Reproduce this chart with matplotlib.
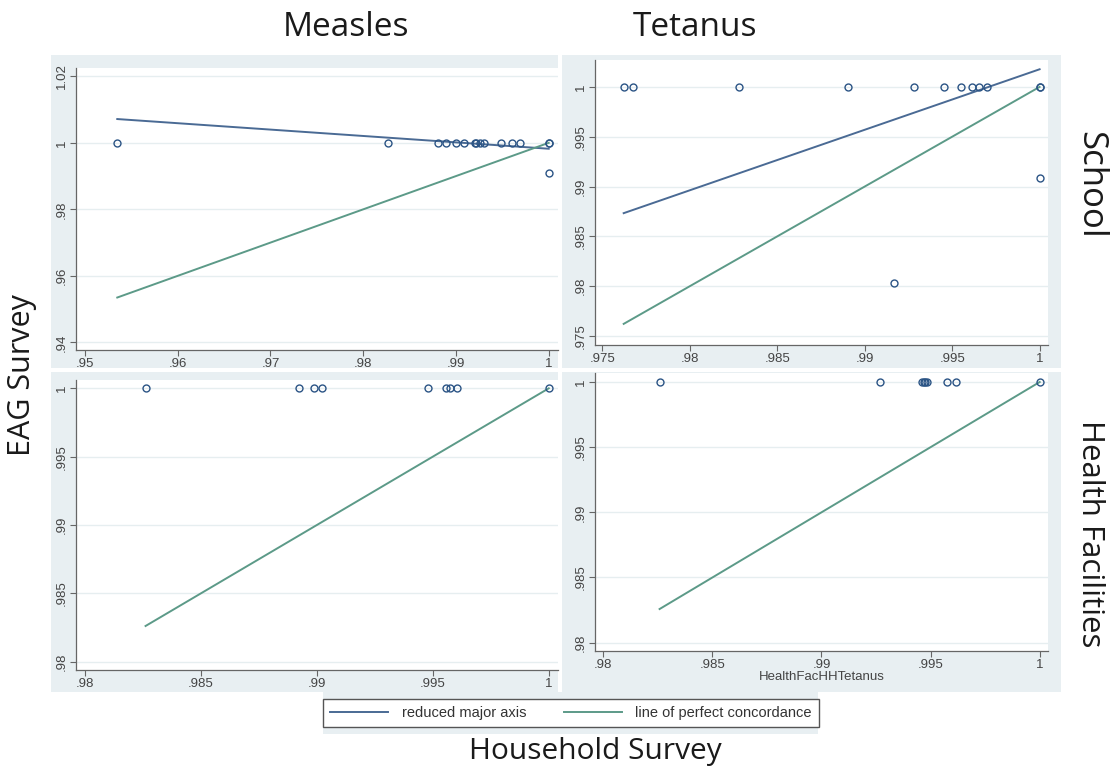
import numpy as np
import matplotlib
matplotlib.use("Agg")
import matplotlib.pyplot as plt
from matplotlib.patches import Rectangle
from matplotlib.lines import Line2D

# ---- data ----
# Measles / School
ms_x = [0.95348, 0.98272, 0.98807, 0.98897, 0.98998, 0.99084, 0.99203, 0.9922,
        0.99256, 0.99303, 0.9949, 0.99608, 0.99694, 1.0, 1.0, 1.0]
ms_y = [1, 1, 1, 1, 1, 1, 1, 1, 1, 1, 1, 1, 1, 1, 1, 0.9909]
ms_rma_x = [0.95348, 1.0]
ms_rma_y = [1.00715, 0.99822]

# Tetanus / School
ts_x = [0.97622, 0.97677, 0.98279, 0.98903, 0.99284, 0.99454, 0.99549, 0.99615,
        0.99655, 0.99699, 1.0, 1.0, 0.99168, 1.0]
ts_y = [1, 1, 1, 1, 1, 1, 1, 1, 1, 1, 1, 1, 0.98035, 0.99081]
ts_rma_x = [0.97622, 1.0]
ts_rma_y = [0.98733, 1.00177]

# Measles / Health Facilities
mh_x = [0.98261, 0.98924, 0.98988, 0.99023, 0.99478, 0.99556, 0.99573, 0.99605, 1.0]
mh_y = [1, 1, 1, 1, 1, 1, 1, 1, 1]

# Tetanus / Health Facilities
th_x = [0.98258, 0.99266, 0.99461, 0.99469, 0.99476, 0.99484, 0.99576, 0.99615, 1.0]
th_y = [1, 1, 1, 1, 1, 1, 1, 1, 1]

W, H = 1115, 770
BG = '#e8eff2'
RMA_C = '#4a6a94'
CONC_C = '#5c9a88'
MARK_C = '#2b5485'

fig = plt.figure(figsize=(W / 100, H / 100), dpi=100)


def px_rect(l, t, r, b):
    return Rectangle((l / W, 1 - b / H), (r - l) / W, (b - t) / H,
                     transform=fig.transFigure, facecolor=BG, edgecolor='none', zorder=-10)


# panel backgrounds
for rect in [(51, 55, 558, 368), (562, 55, 1061, 368),
             (51, 372, 558, 692), (562, 372, 1061, 692), (323, 692, 818, 734)]:
    fig.patches.append(px_rect(*rect))


def make_ax(l, t, r, b):
    return fig.add_axes([l / W, 1 - b / H, (r - l) / W, (b - t) / H])


def fmt(v):
    s = ('%.3f' % v).rstrip('0').rstrip('.')
    if s.startswith('0'):
        s = s[1:]
    return s


def style(ax, xlim, ylim, xt, yt):
    ax.set_xlim(*xlim)
    ax.set_ylim(*ylim)
    ax.set_xticks(xt)
    ax.set_yticks(yt)
    ax.set_xticklabels([fmt(v) for v in xt], fontsize=9.5, color='#444444',
                       family='Liberation Sans')
    ax.set_yticklabels([fmt(v) for v in yt], fontsize=9.5, color='#444444',
                       family='Liberation Sans', rotation=90, va='center')
    for s in ['top', 'right']:
        ax.spines[s].set_visible(False)
    for s in ['left', 'bottom']:
        ax.spines[s].set_color('#666666')
        ax.spines[s].set_linewidth(0.9)
    ax.tick_params(direction='out', length=4, width=0.8, color='#666666', pad=2)
    ax.grid(axis='y', color='#e6eef0', linewidth=1)
    ax.set_axisbelow(True)
    ax.set_facecolor('white')


def scatter(ax, x, y):
    ax.plot(x, y, 'o', ms=5, mfc='none', mec=MARK_C, mew=1.0, zorder=3)


# top-left: Measles, School
ax1 = make_ax(76, 68, 558, 350)
scatter(ax1, ms_x, ms_y)
ax1.plot(ms_rma_x, ms_rma_y, color=RMA_C, lw=1.4)
ax1.plot([min(ms_x), max(ms_x)], [min(ms_x), max(ms_x)], color=CONC_C, lw=1.4)
style(ax1, (0.94903, 1.001), (0.9377, 1.0225),
      [0.95, 0.96, 0.97, 0.98, 0.99, 1.0], [0.94, 0.96, 0.98, 1.0, 1.02])

# top-right: Tetanus, School
ax2 = make_ax(595, 60, 1048, 345)
scatter(ax2, ts_x, ts_y)
ax2.plot(ts_rma_x, ts_rma_y, color=RMA_C, lw=1.4)
ax2.plot([min(ts_x), max(ts_x)], [min(ts_x), max(ts_x)], color=CONC_C, lw=1.4)
style(ax2, (0.97458, 1.00048), (0.9741, 1.0027),
      [0.975, 0.98, 0.985, 0.99, 0.995, 1.0], [0.975, 0.98, 0.985, 0.99, 0.995, 1.0])

# bottom-left: Measles, Health Facilities
ax3 = make_ax(76, 380, 558, 670)
scatter(ax3, mh_x, mh_y)
ax3.plot([min(mh_x), max(mh_x)], [min(mh_x), max(mh_x)], color=CONC_C, lw=1.4)
style(ax3, (0.97961, 1.0004), (0.97939, 1.00061),
      [0.98, 0.985, 0.99, 0.995, 1.0], [0.98, 0.985, 0.99, 0.995, 1.0])

# bottom-right: Tetanus, Health Facilities
ax4 = make_ax(595, 373, 1048, 651)
scatter(ax4, th_x, th_y)
ax4.plot([min(th_x), max(th_x)], [min(th_x), max(th_x)], color=CONC_C, lw=1.4)
style(ax4, (0.97962, 1.00038), (0.97936, 1.00069),
      [0.98, 0.985, 0.99, 0.995, 1.0], [0.98, 0.985, 0.99, 0.995, 1.0])
ax4.set_xlabel('HealthFacHHTetanus', fontsize=9.5, color='#444444',
               family='Liberation Sans', labelpad=0)

# legend
handles = [Line2D([], [], color=RMA_C, lw=1.4), Line2D([], [], color=CONC_C, lw=1.4)]
leg = fig.legend(handles, ['reduced major axis', 'line of perfect concordance'],
                 loc='center', bbox_to_anchor=(571 / W, 1 - 713 / H), ncol=2,
                 prop={'family': 'Liberation Sans', 'size': 10.5}, fancybox=False,
                 edgecolor='#555555', facecolor='white', framealpha=1,
                 handlelength=4.0, columnspacing=2.6, borderpad=0.5,
                 handletextpad=0.9)
leg.get_frame().set_linewidth(1.0)
for t in leg.get_texts():
    t.set_color('#333333')

# big labels
big = dict(family='Open Sans', color='#1a1a1a')
fig.text(346 / W, 1 - 27 / H, 'Measles', ha='center', va='center', fontsize=24, **big)
fig.text(695 / W, 1 - 27 / H, 'Tetanus', ha='center', va='center', fontsize=24, **big)
fig.text(1090 / W, 1 - 185 / H, 'School', ha='center', va='center', rotation=-90,
         fontsize=25, **big)
fig.text(1090 / W, 1 - 534 / H, 'Health Facilities', ha='center', va='center',
         rotation=-90, fontsize=22.5, **big)
fig.text(22 / W, 1 - 375 / H, 'EAG Survey', ha='center', va='center', rotation=90,
         fontsize=22, **big)
fig.text(595 / W, 1 - 752 / H, 'Household Survey', ha='center', va='center',
         fontsize=21.5, **big)

fig.savefig('out.png', dpi=100, facecolor='white')
